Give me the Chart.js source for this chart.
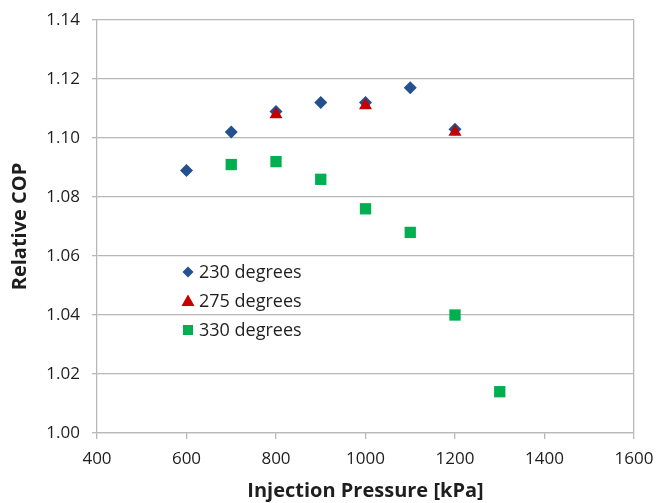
<!DOCTYPE html>
<html>
<head>
<meta charset="utf-8">
<script src="https://cdn.jsdelivr.net/npm/chart.js@4.4.1/dist/chart.umd.min.js"></script>
<style>
  html, body { margin: 0; padding: 0; background: #fff; }
  #wrap { width: 657px; height: 503px; }
</style>
</head>
<body>
<div id="wrap"><canvas id="cop" width="657" height="503"></canvas></div>
<script>
// injection pressure in kPa, relative COP
const pressure230 = [600, 700, 800, 900, 1000, 1100, 1200]
const cop230 = [1.089, 1.102, 1.109, 1.112, 1.112, 1.117, 1.103]
const pressure275 = [800, 1000, 1200]
const cop275 = [1.108, 1.111, 1.102]
const pressure330 = [700, 800, 900, 1000, 1100, 1200, 1300]
const cop330 = [1.091, 1.092, 1.086, 1.076, 1.068, 1.040, 1.014]
const seriesNames = ['230 degrees', '275 degrees', '330 degrees']

const FONT = '"Open Sans", "Noto Sans", sans-serif'
const gridGray = '#b8b8b8'
const textCol = '#1e1e1e'

function toPoints(xs, ys) {
  return xs.map((x, i) => ({ x: x, y: ys[i] }))
}

// legend drawn inside the plot, like the original
const insideLegend = {
  id: 'insideLegend',
  afterDraw(chart) {
    const ctx = chart.ctx
    const x0 = 188, y0 = 272, step = 29
    ctx.save()
    ctx.font = '18px ' + FONT
    ctx.textBaseline = 'middle'
    chart.data.datasets.forEach((ds, i) => {
      const cy = y0 + i * step
      ctx.fillStyle = ds.backgroundColor
      ctx.beginPath()
      if (i === 0) {
        ctx.moveTo(x0, cy - 5.5); ctx.lineTo(x0 + 5.5, cy); ctx.lineTo(x0, cy + 5.5); ctx.lineTo(x0 - 5.5, cy)
      } else if (i === 1) {
        ctx.moveTo(x0, cy - 6.5); ctx.lineTo(x0 + 6.5, cy + 5); ctx.lineTo(x0 - 6.5, cy + 5)
      } else {
        ctx.rect(x0 - 5, cy - 5, 10, 10)
      }
      ctx.closePath()
      ctx.fill()
      ctx.fillStyle = textCol
      ctx.fillText(seriesNames[i], x0 + 11, cy + 1)
    })
    ctx.restore()
  }
}

const ctx = document.getElementById('cop').getContext('2d')
const copChart = new Chart(ctx, {
  type: 'scatter',
  data: {
    datasets: [
      {
        label: seriesNames[0],
        data: toPoints(pressure230, cop230),
        pointStyle: 'rectRot',
        pointRadius: 6.5,
        backgroundColor: '#23508e',
        borderColor: '#23508e',
        borderWidth: 0,
        order: 2
      },
      {
        label: seriesNames[1],
        data: toPoints(pressure275, cop275),
        pointStyle: 'triangle',
        pointRadius: 7.5,
        backgroundColor: '#c40000',
        borderColor: '#c40000',
        borderWidth: 0,
        order: 1
      },
      {
        label: seriesNames[2],
        data: toPoints(pressure330, cop330),
        pointStyle: 'rect',
        pointRadius: 8,
        backgroundColor: '#00b050',
        borderColor: '#00b050',
        borderWidth: 0,
        order: 3
      }
    ]
  },
  options: {
    responsive: false,
    animation: false,
    events: [],
    layout: { padding: { left: 0, right: 23, top: 20, bottom: 0 } },
    plugins: {
      legend: { display: false },
      tooltip: { enabled: false }
    },
    scales: {
      x: {
        type: 'linear',
        min: 400,
        max: 1600,
        ticks: {
          stepSize: 200,
          color: textCol,
          font: { family: FONT, size: 17 },
          padding: 10,
          callback: v => String(v)
        },
        grid: {
          color: c => (c.tick && c.tick.value === 1600) ? gridGray : 'rgba(0,0,0,0)',
          tickColor: gridGray,
          tickLength: 6,
          lineWidth: 1.3
        },
        border: { color: gridGray, width: 1.3 },
        title: {
          display: true,
          text: 'Injection Pressure [kPa]',
          color: textCol,
          font: { family: FONT, size: 20, weight: 'bold' },
          padding: { top: 0, bottom: 0 }
        },
        afterFit: s => {
          s.height = 70
          s.paddingLeft = 0
          s.paddingRight = 0
        }
      },
      y: {
        min: 1.00,
        max: 1.14,
        ticks: {
          stepSize: 0.02,
          color: textCol,
          font: { family: FONT, size: 17 },
          padding: 12,
          callback: v => v.toFixed(2)
        },
        grid: {
          color: gridGray,
          tickColor: gridGray,
          tickLength: 5,
          lineWidth: 1.3
        },
        border: { color: gridGray, width: 1.3 },
        title: {
          display: true,
          text: 'Relative COP',
          color: textCol,
          font: { family: FONT, size: 20, weight: 'bold' },
          padding: { top: 8, bottom: 0 }
        },
        afterFit: s => {
          s.width = 97
          s.paddingTop = 0
          s.paddingBottom = 0
        }
      }
    }
  },
  plugins: [insideLegend]
})
</script>
</body>
</html>
